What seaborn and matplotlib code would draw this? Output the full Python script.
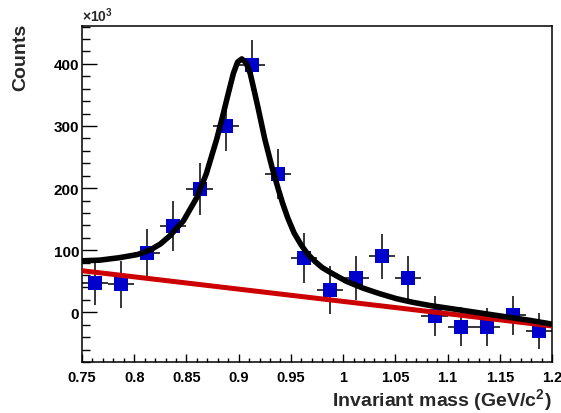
import matplotlib
matplotlib.use("Agg")
import matplotlib.pyplot as plt
import seaborn as sns
from matplotlib.ticker import FixedLocator, FixedFormatter, MultipleLocator

# ---- data ----
mass = [0.7625, 0.7875, 0.8125, 0.8375, 0.8625, 0.8875, 0.9125, 0.9375, 0.9625,
        0.9875, 1.0125, 1.0375, 1.0625, 1.0875, 1.1125, 1.1375, 1.1625, 1.1875]
counts = [48, 45, 95, 139, 199, 300, 398, 223, 87,
          36, 55, 90, 56, -6, -23, -24, -5, -30]
count_err = [37, 38, 39, 40, 42, 40, 40, 40, 40,
             38, 35, 36, 34, 32, 32, 31, 32, 29]
bin_half = [0.0125] * len(mass)

fit_x = [0.750, 0.767, 0.786, 0.803, 0.815, 0.825, 0.834, 0.847, 0.860, 0.869,
         0.879, 0.885, 0.890, 0.895, 0.899, 0.903, 0.907, 0.911, 0.915, 0.919,
         0.925, 0.932, 0.938, 0.942, 0.947, 0.953, 0.960, 0.966, 0.973, 0.980,
         0.988, 1.003, 1.019, 1.035, 1.051, 1.067, 1.083, 1.115, 1.147, 1.179,
         1.200]
fit_y = [83, 84, 88, 93, 100, 110, 123, 147, 185, 223,
         279, 318, 352, 385, 403, 408, 402, 385, 356, 326,
         279, 233, 198, 176, 152, 128, 108, 94, 82, 72,
         64, 50, 39, 30, 22, 16, 11, 3, -5, -13,
         -19]

bg_x = [0.75, 1.20]
bg_y = [67, -22]

x_ticks = [0.75, 0.80, 0.85, 0.90, 0.95, 1.00, 1.05, 1.10, 1.15, 1.20]
x_tick_labels = ["0.75", "0.8", "0.85", "0.9", "0.95", "1", "1.05", "1.1", "1.15", "1.2"]
y_ticks = [0, 100, 200, 300, 400]
y_tick_labels = ["0", "100", "200", "300", "400"]

# ---- style ----
sns.set_style("white")
plt.rcParams["font.family"] = ["Liberation Sans", "DejaVu Sans"]
plt.rcParams["font.weight"] = "bold"
plt.rcParams["mathtext.fontset"] = "custom"
plt.rcParams["mathtext.rm"] = "Liberation Sans:bold"
plt.rcParams["mathtext.bf"] = "Liberation Sans:bold"
plt.rcParams["mathtext.default"] = "bf"

fig = plt.figure(figsize=(5.61, 4.14), dpi=100)
ax = fig.add_axes([82 / 561, 1 - 363 / 414, 470 / 561, 336 / 414])

ax.errorbar(mass, counts, yerr=count_err, xerr=bin_half, fmt="none",
            ecolor="black", elinewidth=1.1, capsize=0, zorder=2)
sns.scatterplot(x=mass, y=counts, marker="s", s=100, color="#0000cc",
                linewidth=0, ax=ax, zorder=3)
sns.lineplot(x=bg_x, y=bg_y, color="#cc0000", linewidth=3.6, ax=ax, zorder=4)
sns.lineplot(x=fit_x, y=fit_y, color="black", linewidth=4.0, ax=ax, zorder=5,
             sort=False)
for ln in ax.get_lines():
    ln.set_solid_joinstyle("round")

ax.set_xlim(0.75, 1.20)
ax.set_ylim(-80, 461)

ax.xaxis.set_major_locator(FixedLocator(x_ticks))
ax.xaxis.set_major_formatter(FixedFormatter(x_tick_labels))
ax.xaxis.set_minor_locator(MultipleLocator(0.01))
ax.yaxis.set_major_locator(FixedLocator(y_ticks))
ax.yaxis.set_major_formatter(FixedFormatter(y_tick_labels))
ax.yaxis.set_minor_locator(MultipleLocator(20))

ax.tick_params(axis="both", which="both", bottom=True, left=True,
               top=False, right=False)
ax.tick_params(axis="x", which="major", direction="in", length=6, width=1.0,
               pad=6, labelsize=10.5, colors="black")
ax.tick_params(axis="x", which="minor", direction="in", length=3, width=1.0,
               colors="black")
ax.tick_params(axis="y", which="major", direction="in", length=11, width=1.0,
               pad=2, labelsize=11, colors="black")
ax.tick_params(axis="y", which="minor", direction="in", length=5.5, width=1.0,
               colors="black")
for lab in ax.get_xticklabels() + ax.get_yticklabels():
    lab.set_fontweight("bold")

for sp in ax.spines.values():
    sp.set_visible(True)
    sp.set_color("black")
    sp.set_linewidth(1.1)

ax.set_xlabel(r"Invariant mass (GeV/c$^{2}$)", fontsize=14, fontweight="bold",
              ha="right", va="center")
ax.xaxis.set_label_coords(1.0, (363 - 400) / 336)
ax.set_ylabel("Counts", fontsize=14, fontweight="bold", ha="center", va="center")
ax.yaxis.set_label_coords((21 - 82) / 470, (363 - 57) / 336)

ax.text(0.0, 1.0 + 2 / 336, r"×10$^{3}$", transform=ax.transAxes,
        ha="left", va="bottom", fontsize=10, fontweight="bold")

fig.savefig("out.png", dpi=100, facecolor="white")
